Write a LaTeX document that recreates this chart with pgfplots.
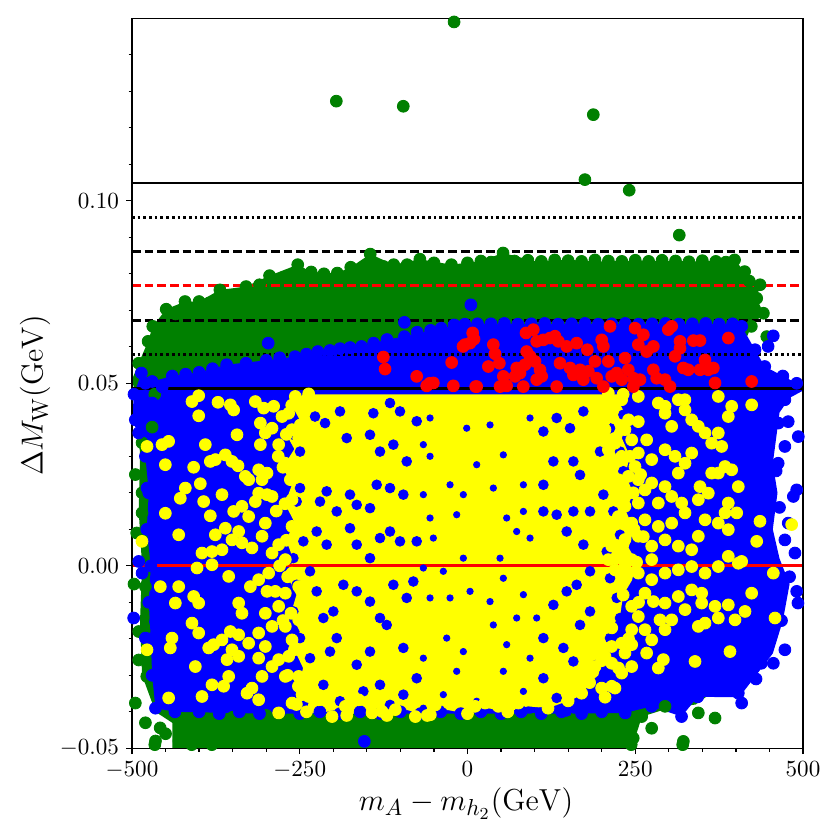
\documentclass[border=0pt]{standalone}
\usepackage{pgfplots}
\pgfplotsset{compat=1.18}
\definecolor{mgreen}{HTML}{008000}
\definecolor{mblue}{HTML}{0000FF}
\definecolor{mred}{HTML}{FF0000}
\definecolor{myellow}{HTML}{FFFF00}
\pgfplotsset{
  dot/.style={only marks, mark=*, mark size=2.8pt, color=#1, mark options={draw=none, fill=#1}},
  hole/.style={only marks, mark=*, mark size=2.3pt, color=#1, mark options={draw=none, fill=#1}},
  smallhole/.style={only marks, mark=*, mark size=1.5pt, color=#1, mark options={draw=none, fill=#1}},
}
\begin{document}
\begin{tikzpicture}
\begin{axis}[
  scale only axis, width=11.183cm, height=12.167cm,
  xmin=-500, xmax=500, ymin=-0.05, ymax=0.15,
  xtick={-500,-250,0,250,500},
  xticklabels={$-500$,$-250$,$0$,$250$,$500$},
  ytick={-0.05,0,0.05,0.10},
  yticklabels={$-0.05$,$0.00$,$0.05$,$0.10$},
  scaled y ticks=false,
  minor xtick={-450,-400,-350,-300,-200,-150,-100,-50,50,100,150,200,300,350,400,450},
  minor ytick={-0.04,-0.03,-0.02,-0.01,0.01,0.02,0.03,0.04,0.06,0.07,0.08,0.09,0.11,0.12,0.13,0.14},
  tick pos=left, tick align=outside,
  major tick length=2.7pt, minor tick length=1.6pt,
  every tick/.append style={black, line width=0.6pt},
  axis line style={line width=0.6pt},
  axis on top,
  tick label style={font=\fontsize{11.2}{13}\selectfont},
  label style={font=\fontsize{15.6}{18}\selectfont},
  xlabel={$m_A - m_{h_2}(\mathrm{GeV})$},
  ylabel={$\Delta M_{\mathrm{W}}(\mathrm{GeV})$},
  xlabel style={at={(axis description cs:0.4978,-0.0753)}, anchor=center},
  ylabel style={at={(axis description cs:-0.1446,0.4836)}, anchor=center},
]
% ---------------- green region ----------------
\addplot[draw=none, fill=mgreen] coordinates {
(-500,0.051) (-490,0.0555) (-476,0.0615) (-469,0.0656) (-449,0.0703) (-421,0.0724) (-400,0.0724) (-369,0.0756)
(-330,0.0765) (-295,0.0795) (-253,0.0825) (-233,0.0805) (-194,0.0802) (-174,0.0818) (-145,0.0854) (-110,0.0825)
(-71,0.084) (-24,0.0825) (20,0.0835) (53,0.0857) (100,0.0835) (150,0.0838) (200,0.0834) (250,0.0836) (300,0.0835)
(350,0.0834) (398,0.0838) (413,0.0806) (436,0.077) (431,0.0733) (441,0.0692) (423,0.0656) (410,0.060) (400,0.0)
(400,-0.030) (340,-0.038) (300,-0.039) (260,-0.0413) (250,-0.047) (240,-0.05) (-440,-0.05) (-440,-0.043)
(-465,-0.040) (-485,-0.030) (-488,-0.015) (-485,0.000) (-490,0.015) (-488,0.030) (-492,0.045)
} -- cycle;
\addplot[dot=mgreen] coordinates {
(-20,0.149) (-195.5,0.1273) (-95.7,0.1259) (187.5,0.1236) (175,0.1058) (241,0.1029) (315.6,0.0906)
(-490,0.0555) (-476,0.0615) (-469,0.0656) (-449,0.0703) (-435,0.069) (-421,0.0724) (-400,0.0724) (-385,0.072)
(-369,0.0756) (-350,0.074) (-330,0.0765) (-310,0.077) (-295,0.0795) (-275,0.079) (-253,0.0825) (-233,0.0805)
(-214,0.080) (-194,0.0802) (-174,0.0818) (-160,0.081) (-145,0.0854) (-143,0.0835) (-125,0.082) (-110,0.0825)
(-90,0.0825) (-71,0.084) (-50,0.083) (-24,0.0825) (0,0.083) (20,0.0835) (35,0.0832) (53,0.0857) (70,0.0835)
(90,0.0837) (110,0.0834) (130,0.0838) (150,0.0836) (170,0.0834) (190,0.0838) (210,0.0835) (230,0.0834)
(250,0.0837) (270,0.0834) (290,0.0837) (310,0.0835) (330,0.0833) (350,0.0836) (370,0.0834) (385,0.0832)
(398,0.0838) (413,0.0806) (436,0.077) (431,0.0733) (441,0.0692) (423,0.0656) (446,0.0628) (425,0.071) (420,0.078)
(-466,0.047) (-470,0.038) (-485,0.0337) (-485,0.020) (-485,0.0145) (-493,0.009) (-480,-0.0057) (-490,-0.018)
(-490,-0.0258) (-478,-0.0303) (-495,-0.0376) (-480,-0.043) (-458,-0.0444) (-465,-0.048) (-450,-0.046)
(-430,-0.048) (-495,0.025) (-497,-0.005)
(-466,-0.049) (-411,-0.049) (-381,-0.049) (244,-0.049) (320.7,-0.049) (259.6,-0.0413) (274.5,-0.0445)
(344,-0.0403) (368.9,-0.0417) (321.7,-0.0481) (294.4,-0.0385) (247,-0.0472) (230,-0.0425) (200,-0.0415)
(150,-0.0418) (100,-0.042) (50,-0.042) (0,-0.042) (-50,-0.042) (-100,-0.042) (-150,-0.042) (-200,-0.0415)
(-250,-0.042) (-300,-0.041) (-350,-0.0415) (-400,-0.041) (-436,-0.041)
};
% ---------------- blue region ----------------
\addplot[draw=none, fill=mblue] coordinates {
(-500,0.040) (-497,0.047) (-486,0.0528) (-470,0.0505) (-440,0.052) (-400,0.053) (-359,0.0551) (-300,0.0563)
(-257,0.0573) (-223,0.0587) (-190,0.0595) (-158,0.0601) (-120,0.062) (-94,0.0628) (-39,0.0651) (-4,0.0662)
(50,0.0663) (400,0.0663) (408.6,0.0656) (428.5,0.0592) (443,0.0546) (470,0.052) (490.6,0.050) (500,0.048)
(480,0.046) (465,0.042) (460,0.035) (455,0.028) (462,0.020) (455,0.010) (465,0.002) (480,-0.005) (470,-0.015)
(455,-0.024) (430,-0.030) (405,-0.036) (343,-0.0359) (319,-0.0413) (274.5,-0.0385) (235,-0.0403) (150,-0.0405)
(50,-0.0405) (-50,-0.0405) (-150,-0.0405) (-300,-0.0405) (-436,-0.0400) (-465,-0.039) (-470,-0.030)
(-472,-0.020) (-475,-0.010) (-472,0.000) (-478,0.010) (-475,0.020) (-480,0.030) (-490,0.036)
} -- cycle;
\addplot[dot=mblue] coordinates {
(-497,0.047) (-486,0.0528) (-470,0.0505) (-455,0.049) (-440,0.052) (-420,0.0525) (-400,0.053) (-380,0.054)
(-359,0.0551) (-330,0.0555) (-300,0.0563) (-297,0.061) (-280,0.057) (-257,0.0573) (-240,0.058) (-223,0.0587)
(-205,0.059) (-190,0.0595) (-175,0.0598) (-158,0.0601) (-140,0.061) (-120,0.062) (-94,0.0628) (-94,0.0667)
(-75,0.064) (-55,0.0645) (-39,0.0651) (-20,0.066) (-4,0.0662) (5,0.0715) (15,0.0663) (35,0.0663) (55,0.0664)
(75,0.0662) (95,0.0663) (115,0.0664) (135,0.0662) (155,0.0663) (175,0.0664) (195,0.0662) (215,0.0663)
(235,0.0664) (255,0.0662) (275,0.0663) (295,0.0664) (315,0.0662) (335,0.0663) (355,0.0664) (375,0.0662)
(395,0.0663)
(408.6,0.0656) (428.5,0.0592) (448,0.0601) (455.7,0.063) (443,0.0546) (470,0.052) (490.6,0.050) (473,0.0455)
(478,0.0395) (493,0.0354) (473,0.0327) (463,0.0281) (490.6,0.0208) (485.6,0.019) (478,0.0117) (473,0.0071)
(488,0.0035) (490.6,-0.007) (492.5,-0.0102) (473,-0.023) (455.8,-0.0267) (438,-0.0267) (408.6,-0.0376)
(403.6,-0.0349) (463.3,0.0391) (468,-0.015) (480,-0.003) (465,0.016) (460,0.026) (430,-0.031)
(343,-0.0359) (319,-0.0413) (274.5,-0.0385) (235,-0.0403) (200,-0.040) (170,-0.0405) (140,-0.040)
(110,-0.0405) (80,-0.040) (50,-0.0405) (20,-0.040) (-10,-0.0405) (-40,-0.040) (-70,-0.0405) (-100,-0.040)
(-130,-0.0405) (-153.7,-0.0481) (-160,-0.040) (-190,-0.0405) (-220,-0.040) (-250,-0.0405) (-280,-0.040)
(-310,-0.0405) (-340,-0.040) (-370,-0.0405) (-400,-0.040) (-436,-0.040) (-465,-0.039)
(-470,-0.030) (-472,-0.020) (-480,-0.0198) (-497.5,-0.0143) (-465,-0.0153) (-475,-0.010) (-485,-0.002)
(-472,0.000) (-490,0.0012) (-478,0.010) (-477.6,0.0213) (-475,0.020) (-480,0.030) (-490,0.0364) (-495,0.040)
(-480,0.050) (-470,0.0446)
};
% ---------------- yellow core ----------------
\addplot[draw=none, fill=myellow] coordinates {
(-245,0.047) (-262,0.044) (-250,0.040) (-270,0.036) (-258,0.032) (-275,0.027) (-262,0.022) (-272,0.017)
(-258,0.012) (-270,0.007) (-260,0.002) (-268,-0.003) (-255,-0.008) (-263,-0.013) (-250,-0.018) (-258,-0.023)
(-245,-0.028) (-252,-0.033) (-235,-0.036) (-240,-0.040) (-220,-0.0405)
(-200,-0.0395) (-180,-0.041) (-150,-0.0395) (-120,-0.041) (-90,-0.0395) (-60,-0.041) (-30,-0.0395) (0,-0.0405)
(30,-0.039) (60,-0.040) (90,-0.0385) (120,-0.039) (150,-0.037)
(170,-0.0355) (182,-0.032) (195,-0.030) (200,-0.026) (212,-0.022) (215,-0.017) (228,-0.013) (232,-0.008)
(245,-0.004) (252,0.001) (240,0.005) (248,0.010) (236,0.015) (247,0.020) (235,0.025) (242,0.030) (230,0.035)
(240,0.040) (228,0.044) (232,0.047)
} -- cycle;
\addplot[hole=mblue] coordinates {
(-259.5,0.0359) (-249.6,0.0313) (-227.2,0.0409) (-212.3,0.0391) (-190.0,0.0423) (-140.3,0.0418) (-115.5,0.0446)
(-100.6,0.0423) (-75.7,0.0396) (-180.0,0.0350) (-145.3,0.0359) (-130.4,0.0313) (-110.5,0.0332) (-90.6,0.0286)
(113.1,0.0368) (132.9,0.0405) (152.8,0.0377) (172.7,0.0423) (212.4,0.0377) (232.3,0.0414) (197.5,0.0313)
(227.3,0.0313) (232.3,0.0259) (157.8,0.0286) (167.7,0.0249) (128.0,0.0286) (113.1,0.0222) (-95.6,0.0195)
(-115.5,0.0213) (-209.9,0.0204) (-219.8,0.0176) (-194.9,0.0149) (-249.6,0.0213) (-254.6,0.0176) (-175.1,0.0195)
(-165.1,0.0167) (-145.3,0.0158) (-135.3,0.0222) (-75.7,0.0067) (-115.5,0.0094) (-100.6,0.0067) (-130.4,0.0076)
(-175.1,0.0103) (-165.1,0.0058) (-224.8,0.0094) (-244.6,0.0067) (-209.9,0.0058) (-259.5,0.0021) (-234.7,-0.0015)
(-145.3,0.0021) (147.8,0.0094) (172.7,0.0058) (207.5,0.0039) (217.4,0.0149) (202.5,0.0195) (227.3,0.0085)
(182.6,0.0149) (157.8,0.0149) (132.9,0.0140) (113.1,0.0149) (147.8,-0.0070) (162.7,-0.0052) (182.6,-0.0015)
(212.4,-0.0034) (222.4,-0.0088) (227.3,-0.0143) (212.4,-0.0198) (182.6,-0.0125) (167.7,-0.0162) (128.0,-0.0107)
(113.1,-0.0198) (142.9,-0.0225) (157.8,-0.0262) (192.6,-0.0271) (-75.7,-0.0308) (-95.6,-0.0225) (-120.4,-0.0162)
(-130.4,-0.0143) (-145.3,-0.0098) (-185.0,-0.0052) (-165.1,-0.0070) (-199.9,-0.0125) (-214.8,-0.0143)
(-224.8,-0.0070) (-254.6,-0.0052) (-259.5,-0.0125) (-249.6,-0.0198) (-234.7,-0.0253) (-254.6,-0.0326)
(-204.9,-0.0235) (-194.9,-0.0198) (-165.1,-0.0271) (-145.3,-0.0235) (-130.4,-0.0326) (-214.8,-0.0326)
(-190.0,-0.0371) (-155.2,-0.0344) (-115.5,-0.0381) (-95.6,-0.0353) (113.1,-0.0308) (132.9,-0.0362)
(147.8,-0.0399) (172.7,-0.0381) (-90.6,-0.0088) (-80.7,-0.0043) (-110.5,-0.0052)
};
\addplot[smallhole=mblue] coordinates {
(-55.8,0.0405) (-55.8,0.0300) (-1.2,0.0377) (33.6,0.0386) (53.4,0.0304) (13.7,0.0277) (93.2,0.0405) (83.3,0.0222)
(38.5,0.0213) (-6.2,0.0195) (-26.0,0.0222) (-65.8,0.0195) (-55.8,0.0131) (-16.1,0.0140) (-50.9,0.0076)
(-65.8,-0.0006) (-36.0,-0.0015) (-6.2,0.0021) (48.5,0.0021) (73.3,0.0094) (93.2,0.0076) (83.3,0.0149)
(58.4,0.0131) (103.1,-0.0143) (83.3,-0.0079) (38.5,-0.0162) (-31.0,-0.0198) (-6.2,-0.0235) (-16.1,-0.0289)
(-65.8,-0.0253) (-65.8,-0.0390) (-36.0,-0.0353) (13.7,-0.0371) (53.4,-0.0289) (83.3,-0.0344) (33.6,-0.0098)
(53.4,-0.0034) (3.8,-0.0070) (-26.0,-0.0088) (-55.8,-0.0088) (73.3,-0.0143) (58.4,-0.0216) (93.2,-0.0253)
(-65.8,0.0332)
};
\addplot[dot=myellow] coordinates {
(-262,0.044) (-270,0.036) (-275,0.027) (-272,0.017) (-270,0.007) (-268,-0.003) (-263,-0.013) (-258,-0.023)
(-252,-0.033) (-240,-0.040) (-180,-0.041) (-120,-0.041) (-60,-0.041) (0,-0.0405) (60,-0.040) (120,-0.039)
(150,-0.037) (182,-0.032) (200,-0.026) (215,-0.017) (232,-0.008) (252,0.001) (248,0.010) (247,0.020)
(242,0.030) (240,0.040) (232,0.047)
(-282,0.030) (-285,0.015) (-280,0.000) (-275,-0.015) (-268,-0.030) (-255,-0.038)
(258,0.025) (262,0.008) (255,-0.010) (240,-0.020) (225,-0.028) (205,-0.036)
(-400.6,0.0466) (-410.6,0.0450) (-371.8,0.0448) (-353.4,0.0441) (-348.5,0.0427) (-400.6,0.0411)
(-343.5,0.0359) (-390.7,0.0332) (-445.4,0.0341) (-455.3,0.0332) (-477.6,0.0327) (-450.3,0.0277)
(-408.1,0.0270) (-383.3,0.0286) (-375.8,0.0291) (-360.9,0.0304) (-351.0,0.0286) (-342.0,0.0274)
(-420.5,0.0213) (-428.0,0.0185) (-398.2,0.0225) (-365.9,0.0195) (-393.2,0.0176) (-450.3,0.0144)
(-383.3,0.0137) (-348.5,0.0149) (-430.4,0.0085) (-375.8,0.0085) (-360.9,0.0103) (-341.0,0.0094)
(-351.0,0.0071) (-395.7,0.0035) (-380.8,0.0039) (-485.1,0.0067) (-326.1,0.0236) (-331.1,0.0245)
(-311.2,0.0263) (-298.8,0.0254) (-306.2,0.0236) (-336.1,0.0163) (-326.1,0.0135) (-316.2,0.0176)
(-311.2,0.0199) (-298.8,0.0195) (-291.3,0.0190) (-301.3,0.0117) (-306.2,0.0081) (-281.4,0.0058)
(-291.3,0.0035) (-321.2,0.0049) (-336.1,0.0063) (-365.9,0.0044) (-316.2,0.0450) (-303.8,0.0432)
(-288.9,0.0437) (-276.4,0.0409) (-256.6,0.0464) (-236.7,0.0471) (-308.7,0.0391) (-301.3,0.0364)
(-308.7,0.0332) (-281.4,0.0332) (-291.3,0.0377) (-266.5,0.0418) (-249.1,0.0386) (-261.5,0.0373)
(-251.6,0.0350)
(-271.5,0.0281) (-264.0,0.0236) (-261.5,0.0181) (-261.5,0.0108) (-271.5,0.0017)
(204.9,0.0400) (214.9,0.0418) (234.7,0.0373) (244.7,0.0345) (229.8,0.0300) (214.9,0.0272) (224.8,0.0236)
(239.7,0.0245) (249.6,0.0272) (254.6,0.0309) (267.0,0.0345) (274.5,0.0291) (284.4,0.0446) (294.4,0.0418)
(304.3,0.0382) (294.4,0.0318) (309.3,0.0300) (314.2,0.0254) (324.2,0.0281) (334.1,0.0309) (314.2,0.0455)
(324.2,0.0427) (334.1,0.0400) (344.0,0.0382) (354.0,0.0364) (363.9,0.0336) (373.8,0.0364) (378.8,0.0327)
(373.8,0.0464) (393.7,0.0437) (388.7,0.0409) (423.5,0.0441) (254.6,0.0236) (264.5,0.0208) (274.5,0.0227)
(294.4,0.0217) (304.3,0.0190) (319.2,0.0172) (284.4,0.0172) (254.6,0.0172) (234.7,0.0163) (224.8,0.0135)
(244.7,0.0117) (264.5,0.0126) (284.4,0.0108) (304.3,0.0117) (324.2,0.0145) (344.0,0.0181) (358.9,0.0199)
(373.8,0.0254) (383.8,0.0272) (393.7,0.0263) (403.6,0.0217) (388.7,0.0172) (401.2,0.0145) (383.8,0.0145)
(373.8,0.0117) (388.7,0.0099) (354.0,0.0126) (344.0,0.0081) (334.1,0.0044) (314.2,0.0054) (294.4,0.0071)
(274.5,0.0054) (254.6,0.0081) (234.7,0.0072) (214.9,0.0054) (209.9,0.0017) (244.7,0.0017) (274.5,0.0017)
(388.7,0.0026) (408.6,0.0012) (431.0,0.0067) (435.9,0.0122) (483.1,0.0113) (363.9,0.0254) (346.5,0.0217)
(209.9,0.0318) (204.9,0.0373) (219.8,0.0336) (229.8,0.0455) (209.9,0.0473) (254.6,0.0464)
(294.4,0.0437) (324,0.0455) (254.6,0.0395)
(-403.1,-0.0006) (-380.8,0.0003) (-355.9,-0.0029) (-430.4,-0.0057) (-457.8,-0.0057) (-435.4,-0.0102)
(-408.1,-0.0084) (-400.6,-0.0102) (-410.6,-0.0157) (-400.6,-0.0184) (-378.3,-0.0216) (-365.9,-0.0203)
(-385.7,-0.0225) (-353.4,-0.0180) (-341.0,-0.0189) (-440.4,-0.0198) (-442.9,-0.0225) (-477.6,-0.0230)
(-405.6,-0.0276) (-395.7,-0.0358) (-445.4,-0.0362) (-380.8,-0.0326) (-363.4,-0.0330) (-355.9,-0.0303)
(-358.4,-0.0257) (-341.0,-0.0248) (-351.0,-0.0230) (-336.1,-0.0130) (-341.0,-0.0102) (-323.6,-0.0057)
(-311.2,-0.0038) (-298.8,-0.0070) (-286.4,-0.0070) (-271.5,-0.0075) (-281.4,-0.0111) (-301.3,-0.0130)
(-291.3,-0.0166) (-311.2,-0.0184) (-326.1,-0.0212) (-301.3,-0.0221) (-311.2,-0.0253) (-291.3,-0.0276)
(-306.2,-0.0303) (-321.2,-0.0335) (-328.6,-0.0349) (-311.2,-0.0367) (-281.4,-0.0403) (-261.5,-0.0376)
(-246.6,-0.0353) (-236.7,-0.0358) (-281.4,-0.0257) (-266.5,-0.0248) (-261.5,-0.0203) (-271.5,-0.0166)
(-251.6,-0.0148) (-246.6,-0.0102) (-251.6,-0.0057) (-261.5,-0.0020) (-296.3,-0.0020) (-271.5,-0.0303)
(-251.6,-0.0303) (-221.8,-0.0367)
(-201.9,-0.0413) (-182.0,-0.0385) (-162.2,-0.0367) (-142.3,-0.0403) (-127.4,-0.0399) (-107.5,-0.0394)
(-77.7,-0.0413) (-55.4,-0.0408) (-47.9,-0.0381) (-28.0,-0.0376)
(219.8,-0.0011) (234.7,-0.0002) (254.6,-0.0020) (274.5,-0.0038) (294.4,-0.0020) (314.2,-0.0011)
(334.1,-0.0002) (354.0,-0.0020) (373.8,-0.0002) (403.6,0.0007) (455.8,-0.0020) (264.5,-0.0075)
(277.0,-0.0098) (294.4,-0.0102) (314.2,-0.0084) (334.1,-0.0066) (349.0,-0.0075) (349.0,-0.0102)
(324.2,-0.0120) (304.3,-0.0148) (294.4,-0.0175) (286.9,-0.0148) (244.7,-0.0111) (254.6,-0.0139)
(264.5,-0.0175) (274.5,-0.0203) (244.7,-0.0175) (229.8,-0.0212) (214.9,-0.0221) (204.9,-0.0248)
(214.9,-0.0267) (234.7,-0.0239) (244.7,-0.0276) (229.8,-0.0294) (214.9,-0.0330) (199.9,-0.0335)
(219.8,-0.0335) (175.1,-0.0312) (170.1,-0.0349) (150.3,-0.0358) (175.1,-0.0257) (190.0,-0.0276)
(145.3,-0.0303) (130.4,-0.0321) (115.5,-0.0349) (95.6,-0.0367) (75.8,-0.0376) (46.0,-0.0385)
(26.1,-0.0376) (11.2,-0.0385) (368.9,-0.0111) (388.7,-0.0107) (413.6,-0.0125) (398.7,-0.0148)
(373.8,-0.0143) (354.0,-0.0157) (344.0,-0.0166) (423.5,-0.0075) (458.3,-0.0143) (391.2,-0.0235)
(339.1,-0.0262) (291.9,-0.0257) (284.4,-0.0280) (267.0,-0.0239) (244.7,-0.0216)
};
% ---------------- red points ----------------
\addplot[dot=mred] coordinates {
(-125.4,0.0572) (-122.9,0.0539) (-75.7,0.0519) (-60.8,0.0493) (-50.9,0.0501) (-23.6,0.0557) (-21.1,0.0493)
(-3.7,0.0606) (7.7,0.0638) (9.7,0.0621) (3.7,0.0610) (12.2,0.0491) (31.1,0.0546) (38.5,0.0606) (41.0,0.0581)
(47.5,0.0555) (53.4,0.0519) (58.4,0.0493) (70.8,0.0519) (73.3,0.0542) (78.3,0.0528) (85.7,0.0551)
(88.2,0.0587) (87.2,0.0638) (93.2,0.0574) (98.1,0.0647) (100.6,0.0560) (103.1,0.0510) (108.1,0.0537)
(110.6,0.0519) (103.1,0.0615) (113.0,0.0619) (123.0,0.0624) (130.4,0.0629) (135.4,0.0615) (137.9,0.0555)
(147.8,0.0601) (152.8,0.0542) (157.8,0.0523) (162.7,0.0610) (167.7,0.0537) (178.6,0.0592) (172.7,0.0510)
(180.1,0.0533) (190.0,0.0560) (192.5,0.0514) (200.0,0.0619) (202.5,0.0601) (209.9,0.0560) (212.4,0.0656)
(214.9,0.0519) (222.3,0.0528) (229.8,0.0510) (234.8,0.0569) (239.7,0.0537) (247.2,0.0514) (249.7,0.0651)
(254.6,0.0606) (257.1,0.0510) (262.1,0.0633) (267.1,0.0587) (277.0,0.0601) (277.0,0.0537) (281.9,0.0514)
(294.4,0.0510) (299.3,0.0647) (304.3,0.0656) (309.3,0.0574) (316.7,0.0615) (316.7,0.0596) (321.7,0.0542)
(329.1,0.0537) (336.6,0.0617) (346.5,0.0617) (346.5,0.0537) (354.0,0.0564) (358.9,0.0537) (366.4,0.0542)
(368.9,0.0501) (388.8,0.0624) (423.5,0.0505) (301.8,0.0491) (247.2,0.0491) (202.5,0.0491) (132.9,0.0491)
(83.2,0.0491) (48.5,0.0491) (13.7,0.0491) (-6.7,0.0601) (-56.3,0.050)
};
% ---------------- horizontal lines ----------------
\addplot[black, line width=1.3pt] coordinates {(-500,0.1049) (500,0.1049)};
\addplot[black, line width=1.3pt, dash pattern=on 1.27pt off 1.43pt] coordinates {(-500,0.0955) (500,0.0955)};
\addplot[black, line width=1.3pt, dash pattern=on 4.1pt off 1.9pt] coordinates {(-500,0.0861) (500,0.0861)};
\addplot[mred, line width=1.3pt, dash pattern=on 4.1pt off 1.9pt] coordinates {(-500,0.0767) (500,0.0767)};
\addplot[black, line width=1.3pt, dash pattern=on 4.1pt off 1.9pt] coordinates {(-500,0.0673) (500,0.0673)};
\addplot[black, line width=1.3pt, dash pattern=on 1.27pt off 1.43pt] coordinates {(-500,0.0579) (500,0.0579)};
\addplot[black, line width=1.3pt] coordinates {(-500,0.0485) (500,0.0485)};
\addplot[mred, line width=1.3pt] coordinates {(-500,0) (500,0)};
\end{axis}
\path (current axis.south west) ++(-2.2cm,-1.528cm) rectangle ++(14cm,14cm);
\end{tikzpicture}
\end{document}
